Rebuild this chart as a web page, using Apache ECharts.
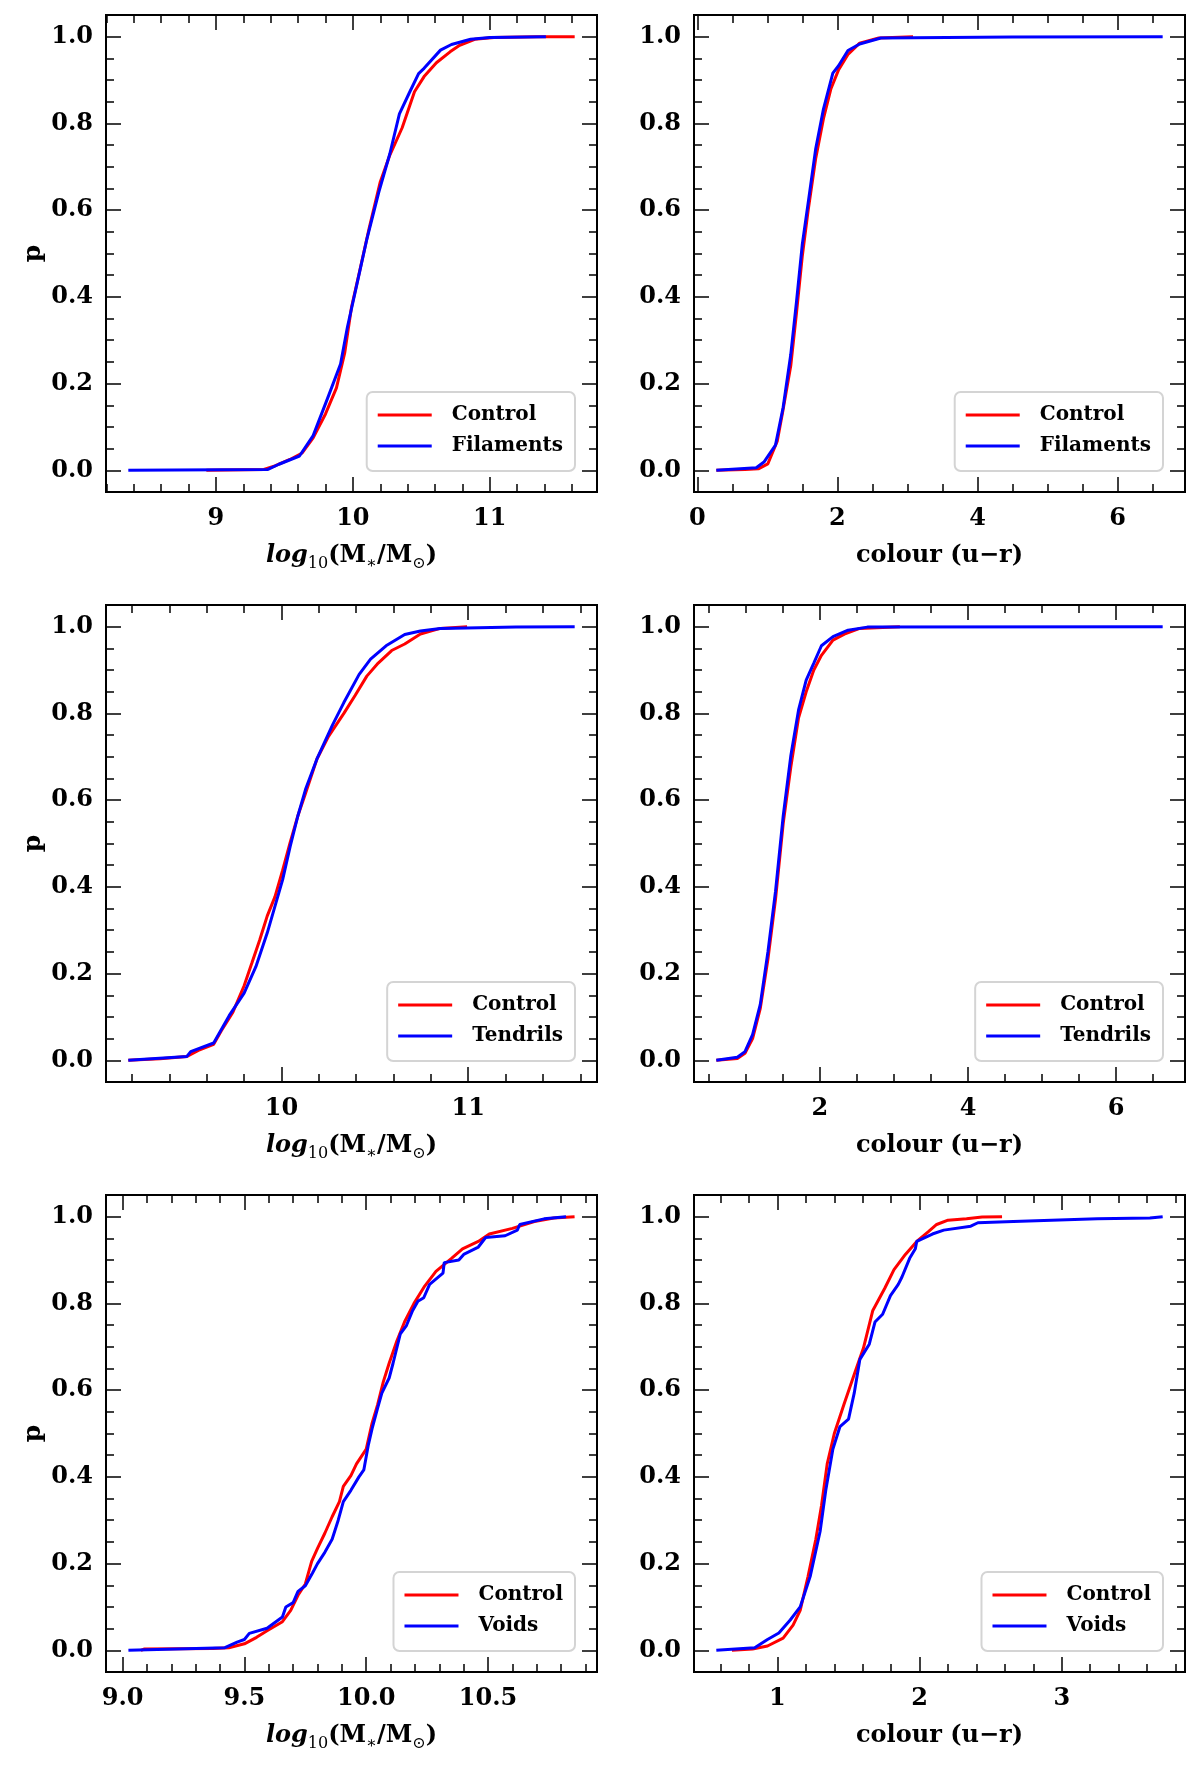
<!DOCTYPE html>
<html><head><meta charset="utf-8">
<script src="https://cdn.jsdelivr.net/npm/echarts@6/dist/echarts.min.js"></script>
<style>html,body{margin:0;padding:0;background:#fff}#c{width:1200px;height:1766px}</style>
</head><body><div id="c"></div><script>
// ---------- data (x, cumulative p) ----------
const massFilControl = [[8.93,0],[9.35,0.002],[9.43,0.01],[9.54,0.025],[9.63,0.04],[9.71,0.075],[9.80,0.13],[9.88,0.19],[9.94,0.27],[9.99,0.376],[10.05,0.46],[10.12,0.56],[10.20,0.665],[10.27,0.727],[10.36,0.79],[10.45,0.873],[10.52,0.908],[10.61,0.94],[10.71,0.965],[10.78,0.98],[10.89,0.994],[11.03,0.998],[11.34,1.0],[11.62,1.0]];
const massFilFilaments = [[8.36,0],[9.38,0.002],[9.46,0.014],[9.61,0.033],[9.71,0.08],[9.82,0.17],[9.91,0.245],[9.96,0.33],[10.03,0.43],[10.10,0.53],[10.19,0.642],[10.27,0.73],[10.34,0.822],[10.41,0.869],[10.48,0.915],[10.52,0.927],[10.64,0.969],[10.72,0.982],[10.86,0.994],[11.0,0.998],[11.41,1.0]];
const colourFilControl = [[0.27,0],[0.68,0.002],[0.87,0.0035],[1.005,0.015],[1.14,0.067],[1.22,0.137],[1.333,0.241],[1.415,0.363],[1.497,0.493],[1.58,0.598],[1.69,0.72],[1.80,0.811],[1.907,0.88],[2.017,0.924],[2.15,0.959],[2.317,0.985],[2.59,0.997],[3.08,1.0]];
const colourFilFilaments = [[0.27,0],[0.84,0.006],[0.95,0.019],[1.115,0.058],[1.224,0.145],[1.333,0.267],[1.415,0.389],[1.497,0.52],[1.58,0.615],[1.69,0.742],[1.80,0.833],[1.934,0.916],[2.016,0.933],[2.15,0.968],[2.317,0.983],[2.62,0.997],[4.50,0.9995],[6.645,1.0]];
const massTenControl = [[9.18,0],[9.35,0.0035],[9.494,0.009],[9.555,0.023],[9.637,0.037],[9.678,0.068],[9.74,0.111],[9.80,0.172],[9.842,0.225],[9.883,0.277],[9.924,0.333],[9.965,0.377],[10.006,0.438],[10.047,0.503],[10.088,0.564],[10.129,0.616],[10.19,0.695],[10.252,0.747],[10.334,0.80],[10.395,0.842],[10.457,0.886],[10.518,0.916],[10.59,0.945],[10.66,0.96],[10.744,0.983],[10.85,0.996],[10.994,1.0]];
const massTenTendrils = [[9.18,0],[9.494,0.009],[9.514,0.02],[9.637,0.04],[9.72,0.103],[9.80,0.155],[9.863,0.216],[9.924,0.294],[9.965,0.355],[10.006,0.416],[10.047,0.494],[10.088,0.564],[10.129,0.625],[10.19,0.695],[10.273,0.773],[10.334,0.825],[10.416,0.89],[10.477,0.925],[10.56,0.956],[10.66,0.982],[10.744,0.99],[10.85,0.996],[10.99,0.997],[11.256,0.999],[11.57,1.0]];
const colourTenControl = [[0.60,0],[0.884,0.004],[0.987,0.016],[1.09,0.05],[1.194,0.12],[1.297,0.233],[1.40,0.372],[1.504,0.547],[1.607,0.677],[1.711,0.79],[1.814,0.85],[1.917,0.90],[2.02,0.934],[2.176,0.969],[2.33,0.983],[2.537,0.996],[3.08,1.0]];
const colourTenTendrils = [[0.60,0],[0.884,0.007],[0.987,0.02],[1.09,0.059],[1.194,0.129],[1.297,0.25],[1.40,0.39],[1.504,0.564],[1.607,0.703],[1.711,0.808],[1.814,0.877],[1.917,0.916],[2.02,0.956],[2.176,0.977],[2.38,0.992],[2.64,0.999],[6.63,1.0]];
const massVoidControl = [[9.075,0],[9.09,0.003],[9.37,0.004],[9.436,0.006],[9.5,0.015],[9.55,0.03],[9.593,0.045],[9.656,0.066],[9.69,0.092],[9.72,0.127],[9.75,0.153],[9.776,0.205],[9.80,0.235],[9.83,0.27],[9.86,0.308],[9.89,0.343],[9.906,0.378],[9.937,0.403],[9.96,0.43],[10.0,0.464],[10.024,0.524],[10.047,0.567],[10.07,0.619],[10.094,0.662],[10.126,0.714],[10.157,0.757],[10.196,0.80],[10.24,0.84],[10.286,0.874],[10.35,0.904],[10.395,0.926],[10.46,0.943],[10.505,0.96],[10.6,0.973],[10.69,0.989],[10.77,0.997],[10.855,1.0]];
const massVoidVoids = [[9.024,0],[9.42,0.006],[9.47,0.019],[9.5,0.025],[9.52,0.039],[9.593,0.051],[9.656,0.077],[9.67,0.10],[9.70,0.11],[9.72,0.136],[9.75,0.149],[9.78,0.179],[9.80,0.20],[9.83,0.226],[9.86,0.256],[9.885,0.30],[9.906,0.343],[9.937,0.369],[9.97,0.40],[9.99,0.416],[10.008,0.472],[10.024,0.511],[10.047,0.559],[10.064,0.593],[10.094,0.628],[10.11,0.662],[10.14,0.73],[10.165,0.749],[10.19,0.783],[10.212,0.805],[10.236,0.813],[10.26,0.844],[10.315,0.87],[10.32,0.894],[10.38,0.90],[10.40,0.913],[10.46,0.93],[10.49,0.952],[10.57,0.956],[10.62,0.969],[10.63,0.982],[10.73,0.995],[10.82,1.0]];
const colourVoidControl = [[0.68,0],[0.825,0.003],[0.93,0.01],[1.04,0.028],[1.11,0.058],[1.16,0.092],[1.215,0.17],[1.27,0.256],[1.31,0.334],[1.35,0.43],[1.40,0.50],[1.47,0.569],[1.54,0.636],[1.605,0.697],[1.67,0.783],[1.755,0.835],[1.82,0.878],[1.90,0.913],[1.98,0.943],[2.06,0.965],[2.12,0.982],[2.20,0.992],[2.33,0.995],[2.44,0.999],[2.58,1.0]];
const colourVoidVoids = [[0.57,0],[0.84,0.006],[0.93,0.025],[1.01,0.04],[1.09,0.07],[1.16,0.10],[1.23,0.17],[1.30,0.274],[1.34,0.369],[1.39,0.464],[1.44,0.516],[1.50,0.533],[1.54,0.593],[1.58,0.671],[1.646,0.706],[1.686,0.757],[1.74,0.775],[1.795,0.818],[1.85,0.844],[1.876,0.861],[1.93,0.904],[1.97,0.926],[1.98,0.943],[2.09,0.96],[2.17,0.969],[2.36,0.978],[2.41,0.986],[2.66,0.989],[3.25,0.995],[3.62,0.997],[3.71,1.0]];

// ---------- tick labels ----------
const massTicksFil = [9, 10, 11];
const colourTicksFil = [0, 2, 4, 6];
const massTicksTen = [10, 11];
const colourTicksTen = [2, 4, 6];
const massTicksVoid = [9.0, 9.5, 10.0, 10.5];
const colourTicksVoid = [1, 2, 3];
const pTicks = [0.0, 0.2, 0.4, 0.6, 0.8, 1.0];

// ---------- layout ----------
const FONT = "'DejaVu Serif', serif";
const GW = 491, GH = 477;
const Y_RANGE = [-0.05, 1.05];
const massName = '{it|log}{sub|10}{n|(M}{sub|\u2217}{n|/M}{sub|\u2299}{n|)}';
const colourName = '{n|colour (u\u2212r)}';

const panels = [
  {left:106, top:15,   xr:[8.197, 11.783],  xt:massTicksFil,   minor:0.2, dec:0, name:massName,   ctrl:massFilControl,    env:massFilFilaments,   envName:'Filaments', p:true},
  {left:694, top:15,   xr:[-0.049, 6.964],  xt:colourTicksFil, minor:0.5, dec:0, name:colourName, ctrl:colourFilControl,  env:colourFilFilaments, envName:'Filaments', p:false},
  {left:106, top:605,  xr:[9.0605, 11.6895],xt:massTicksTen,   minor:0.2, dec:0, name:massName,   ctrl:massTenControl,    env:massTenTendrils,    envName:'Tendrils',  p:true},
  {left:694, top:605,  xr:[0.2985, 6.9315], xt:colourTicksTen, minor:0.5, dec:0, name:colourName, ctrl:colourTenControl,  env:colourTenTendrils,  envName:'Tendrils',  p:false},
  {left:106, top:1195, xr:[8.932, 10.947],  xt:massTicksVoid,  minor:0.1, dec:1, name:massName,   ctrl:massVoidControl,   env:massVoidVoids,      envName:'Voids',     p:true},
  {left:694, top:1195, xr:[0.413, 3.867],   xt:colourTicksVoid,minor:0.2, dec:0, name:colourName, ctrl:colourVoidControl, env:colourVoidVoids,    envName:'Voids',     p:false}
];

function ticksIn(min, max, step) {
  const out = [];
  const s = Math.ceil(min / step - 1e-9);
  for (let k = s; k * step <= max + 1e-9; k++) out.push(+(k * step).toFixed(6));
  return out;
}

const labelStyle = {color:'#000', fontFamily:FONT, fontSize:24, fontWeight:'bold'};
const richName = {
  n:  {fontFamily:FONT, fontSize:24, fontWeight:'bold', color:'#000', lineHeight:32},
  it: {fontFamily:FONT, fontSize:24, fontWeight:'bold', fontStyle:'italic', color:'#000', lineHeight:32},
  sub:{fontFamily:FONT, fontSize:16, fontWeight:'normal', color:'#000', lineHeight:18, verticalAlign:'bottom'}
};

const grid = [], xAxis = [], yAxis = [], series = [], legend = [];

panels.forEach((pn, i) => {
  grid.push({left:pn.left, top:pn.top, width:GW, height:GH, show:true, borderColor:'#000', borderWidth:2, backgroundColor:'transparent', containLabel:false, outerBoundsMode:'none'});
  const xMinor = ticksIn(pn.xr[0], pn.xr[1], pn.minor);
  const yMinor = ticksIn(Y_RANGE[0], Y_RANGE[1], 0.05);
  const base = (pos, isX, major, vals, withLabel) => {
    const ax = {
      type:'value', gridIndex:i, position:pos,
      min: isX ? pn.xr[0] : Y_RANGE[0], max: isX ? pn.xr[1] : Y_RANGE[1],
      axisLine:{show:false, onZero:false},
      splitLine:{show:false},
      axisTick:{show:true, inside:true, length: major ? 15 : 8, customValues: vals, lineStyle:{color:'#000', width:1.5}},
      axisLabel:{show:false},
      silent:true
    };
    if (withLabel) {
      ax.axisLabel = Object.assign({show:true, customValues: vals, margin: isX ? 15 : 13,
        formatter: v => isX ? Number(v).toFixed(pn.dec) : Number(v).toFixed(1)}, labelStyle);
    }
    return ax;
  };
  // x axes
  const xb = base('bottom', true, true, pn.xt, true);
  xb.name = pn.name; xb.nameLocation = 'middle'; xb.nameGap = 48;
  xb.nameTextStyle = {fontFamily:FONT, fontSize:24, fontWeight:'bold', color:'#000', rich:richName};
  const xIdx = xAxis.length;
  xAxis.push(xb);
  xAxis.push(base('bottom', true, false, xMinor, false));
  xAxis.push(base('top', true, true, pn.xt, false));
  xAxis.push(base('top', true, false, xMinor, false));
  // y axes
  const yl = base('left', false, true, pTicks, true);
  if (pn.p) {
    yl.name = 'p'; yl.nameLocation = 'middle'; yl.nameGap = 60; yl.nameRotate = 90;
    yl.nameTextStyle = {fontFamily:FONT, fontSize:25, fontWeight:'bold', color:'#000'};
  }
  const yIdx = yAxis.length;
  yAxis.push(yl);
  yAxis.push(base('left', false, false, yMinor, false));
  yAxis.push(base('right', false, true, pTicks, false));
  yAxis.push(base('right', false, false, yMinor, false));

  series.push({type:'line', name:'Control', xAxisIndex:xIdx, yAxisIndex:yIdx, data:pn.ctrl, showSymbol:false, symbol:'none', color:'#ff0000', lineStyle:{color:'#ff0000', width:3}, z:2});
  series.push({type:'line', name:pn.envName, xAxisIndex:xIdx, yAxisIndex:yIdx, data:pn.env, showSymbol:false, symbol:'none', color:'#0000ff', lineStyle:{color:'#0000ff', width:3}, z:3});

  legend.push({
    orient:'vertical', data:['Control', pn.envName],
    right: 1200 - (pn.left + GW) + 22, bottom: 1766 - (pn.top + GH) + 21,
    icon:'rect', itemWidth:54, itemHeight:3, itemGap:9,
    padding:[12, 12, 14, 11],
    backgroundColor:'rgba(255,255,255,0.8)', borderColor:'#d4d4d4', borderWidth:2, borderRadius:6,
    selectedMode:false,
    textStyle:{fontFamily:FONT, fontSize:20, fontWeight:'bold', color:'#000', lineHeight:22, padding:[0,0,0,15]}
  });
});

const chart = echarts.init(document.getElementById('c'), null, {renderer:'canvas'});
chart.setOption({backgroundColor:'#fff', animation:false, grid, xAxis, yAxis, series, legend});
</script></body></html>
